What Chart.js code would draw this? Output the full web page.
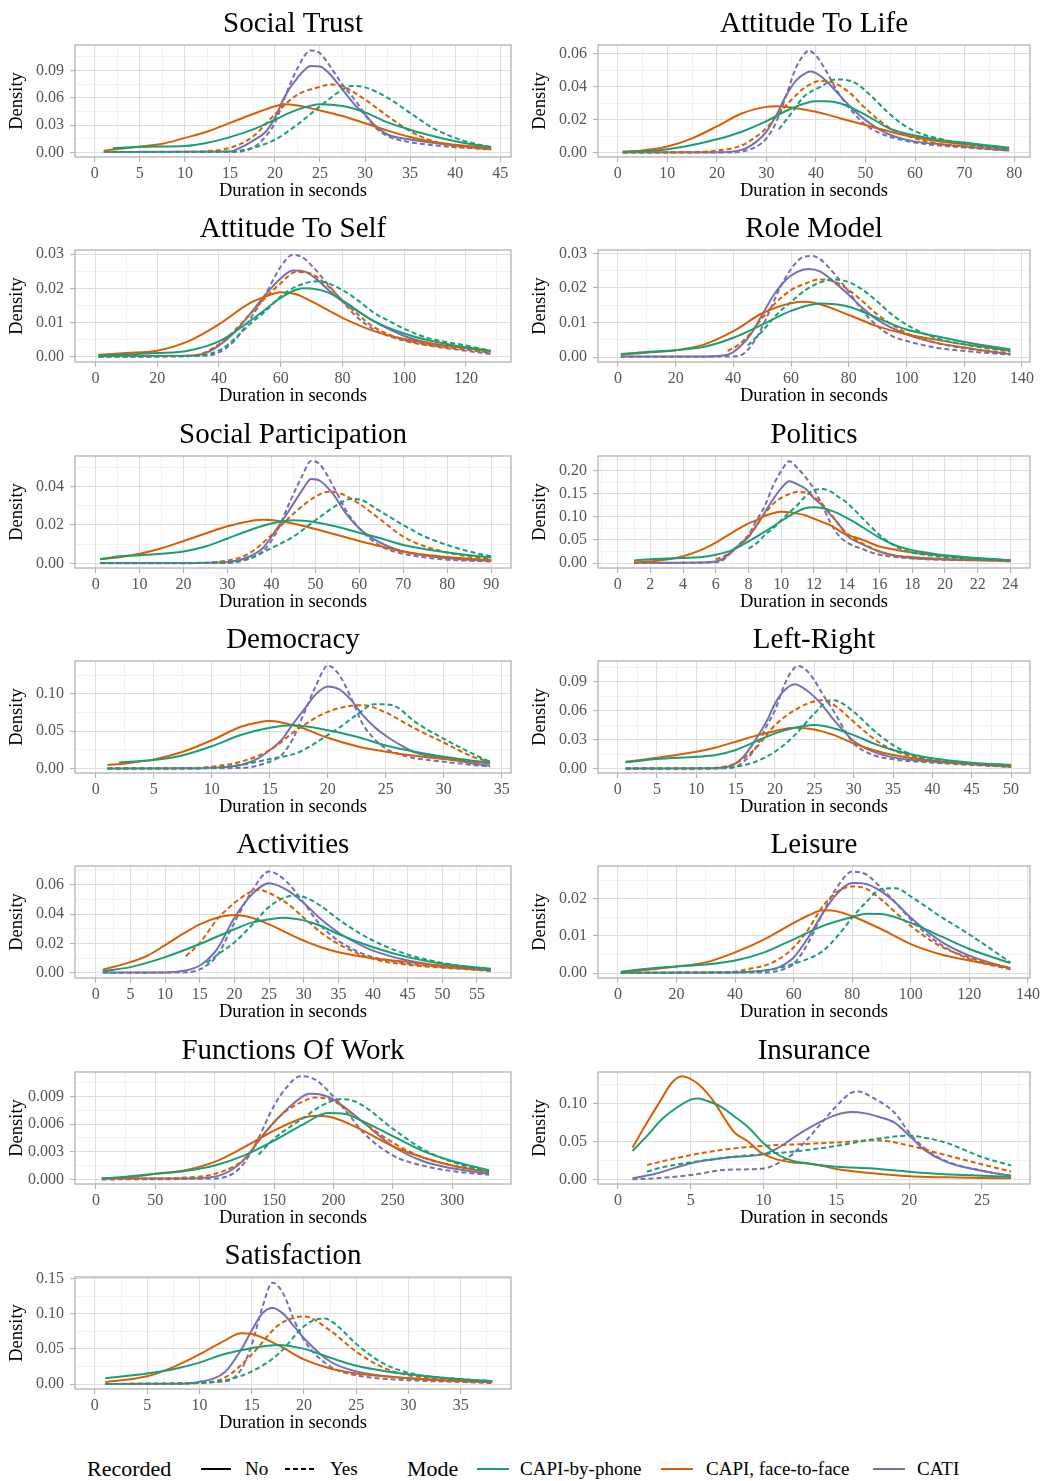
<!DOCTYPE html>
<html lang="en">
<head>
<meta charset="UTF-8">
<title>Response durations by mode and recording</title>
<script src="https://cdn.jsdelivr.net/npm/chart.js"></script>
<style>
  body { margin: 0; background: #fff; width: 1047px; height: 1481px; position: relative; overflow: hidden; font-family: 'Liberation Serif', 'DejaVu Serif', serif; }
  canvas.panel { position: absolute; }
  #legend { position: absolute; left: 0; top: 1454px; width: 1047px; height: 30px; }
  #legend span { position: absolute; top: 0; line-height: 30px; white-space: nowrap; color: #000; }
  #legend .head { font-size: 22px; }
  #legend .item { font-size: 19px; }
  #legend svg { position: absolute; top: 0; }
</style>
</head>
<body>
<div id="legend">
  <span class="head" style="left:87px">Recorded</span>
  <svg style="left:199px" width="34" height="30"><line x1="2" y1="15" x2="32" y2="15" stroke="#000" stroke-width="2"/></svg>
  <span class="item" style="left:245px">No</span>
  <svg style="left:283px" width="36" height="30"><line x1="2" y1="15" x2="34" y2="15" stroke="#000" stroke-width="2" stroke-dasharray="5,3"/></svg>
  <span class="item" style="left:330px">Yes</span>
  <span class="head" style="left:407px">Mode</span>
  <svg style="left:475px" width="36" height="30"><line x1="2" y1="15" x2="34" y2="15" stroke="#1B9E77" stroke-width="2"/></svg>
  <span class="item" style="left:520px">CAPI-by-phone</span>
  <svg style="left:659px" width="36" height="30"><line x1="2" y1="15" x2="34" y2="15" stroke="#D95F02" stroke-width="2"/></svg>
  <span class="item" style="left:706px">CAPI, face-to-face</span>
  <svg style="left:871px" width="36" height="30"><line x1="2" y1="15" x2="34" y2="15" stroke="#7570B3" stroke-width="2"/></svg>
  <span class="item" style="left:917px">CATI</span>
</div>
<script>
// series order in every panel: phone/No, phone/Yes, face-to-face/No, face-to-face/Yes, CATI/No, CATI/Yes
const modes = ['CAPI-by-phone', 'CAPI, face-to-face', 'CATI'];
const recorded = ['No', 'Yes'];
const colours = ['#1B9E77', '#D95F02', '#7570B3'];

const titles = ['Social Trust', 'Attitude To Life', 'Attitude To Self', 'Role Model',
  'Social Participation', 'Politics', 'Democracy', 'Left-Right', 'Activities', 'Leisure',
  'Functions Of Work', 'Insurance', 'Satisfaction'];

const xTicks = [
  [0, 5, 10, 15, 20, 25, 30, 35, 40, 45],
  [0, 10, 20, 30, 40, 50, 60, 70, 80],
  [0, 20, 40, 60, 80, 100, 120],
  [0, 20, 40, 60, 80, 100, 120, 140],
  [0, 10, 20, 30, 40, 50, 60, 70, 80, 90],
  [0, 2, 4, 6, 8, 10, 12, 14, 16, 18, 20, 22, 24],
  [0, 5, 10, 15, 20, 25, 30, 35],
  [0, 5, 10, 15, 20, 25, 30, 35, 40, 45, 50],
  [0, 5, 10, 15, 20, 25, 30, 35, 40, 45, 50, 55],
  [0, 20, 40, 60, 80, 100, 120, 140],
  [0, 50, 100, 150, 200, 250, 300],
  [0, 5, 10, 15, 20, 25],
  [0, 5, 10, 15, 20, 25, 30, 35]
];
const yTicks = [
  [0, 0.03, 0.06, 0.09],
  [0, 0.02, 0.04, 0.06],
  [0, 0.01, 0.02, 0.03],
  [0, 0.01, 0.02, 0.03],
  [0, 0.02, 0.04],
  [0, 0.05, 0.10, 0.15, 0.20],
  [0, 0.05, 0.10],
  [0, 0.03, 0.06, 0.09],
  [0, 0.02, 0.04, 0.06],
  [0, 0.01, 0.02],
  [0, 0.003, 0.006, 0.009],
  [0, 0.05, 0.10],
  [0, 0.05, 0.10, 0.15]
];
const xLimits = [[-2.2, 46.2], [-4, 83.2], [-6.6, 134.6], [-6.9, 142.8], [-4.7, 94.5], [-1.2, 25.2],
  [-1.8, 35.8], [-2.5, 52.4], [-3.0, 59.9], [-6.8, 140.7], [-17.6, 349.5], [-1.37, 28.3], [-1.9, 39.8]];
const yLimits = [[-0.005, 0.118], [-0.0025, 0.0652], [-0.0015, 0.0312], [-0.0014, 0.031], [-0.0024, 0.056],
  [-0.0105, 0.2315], [-0.0058, 0.144], [-0.0045, 0.1117], [-0.0034, 0.0728], [-0.0013, 0.0288],
  [-0.0005, 0.01166], [-0.0052, 0.141], [-0.007, 0.152]];

const socialTrust = [
  [[2,0.0047],[5,0.006],[7.5,0.0065],[10,0.007],[12.5,0.0106],[15,0.0168],[17.5,0.025],[20,0.036],[22.5,0.047],[25,0.053],[27.5,0.051],[30,0.044],[32.5,0.033],[35,0.025],[37.5,0.018],[40,0.0124],[42.5,0.008],[44,0.006]],
  [[1,0.0004],[10,0.0004],[15,0.0007],[17.5,0.005],[20,0.014],[22.5,0.0307],[25,0.0507],[27.5,0.069],[28.5,0.073],[30,0.0715],[32.5,0.06],[35,0.0434],[37.5,0.027],[40,0.016],[42.5,0.0088],[44,0.006]],
  [[1,0.002],[5,0.0066],[7.5,0.0095],[10,0.016],[12.5,0.023],[15,0.0325],[17.5,0.042],[20,0.0507],[21,0.053],[22.5,0.0515],[25,0.046],[27.5,0.04],[30,0.032],[32.5,0.024],[35,0.017],[37.5,0.0117],[40,0.0084],[42.5,0.006],[44,0.004]],
  [[1,0.0005],[10,0.0007],[12.5,0.0015],[15,0.005],[17.5,0.017],[20,0.042],[22.5,0.0635],[25,0.072],[26,0.0745],[27.5,0.0725],[30,0.058],[32.5,0.04],[35,0.0234],[37.5,0.0124],[40,0.007],[42.5,0.0044],[44,0.003]],
  [[1,0.0004],[15,0.001],[16,0.0044],[17.5,0.0124],[19,0.023],[20,0.038],[21,0.06],[22.5,0.082],[24,0.095],[25,0.0945],[26,0.087],[27.5,0.069],[29,0.0507],[30,0.0416],[31,0.0307],[32.5,0.0197],[35,0.0142],[37.5,0.0106],[40,0.0077],[42.5,0.0055],[44,0.0036]],
  [[1,0.0004],[15,0.0004],[17.5,0.005],[19,0.018],[20,0.0325],[21,0.058],[22.5,0.0927],[24,0.112],[25,0.109],[26,0.0963],[27.5,0.0745],[29,0.056],[30,0.0416],[31,0.0288],[32.5,0.0179],[35,0.0113],[37.5,0.008],[40,0.0058],[42.5,0.0044],[44,0.0033]]
];

const attitudeToLife = [
  [[1,0.0004],[5,0.0008],[10,0.0022],[15,0.0048],[20,0.0082],[25,0.0128],[30,0.0192],[35,0.0268],[40,0.0312],[42,0.0312],[45,0.0298],[50,0.023],[55,0.0145],[60,0.0105],[65,0.0078],[70,0.0062],[75,0.0044],[79,0.0032]],
  [[32.5,0.0142],[35.5,0.0258],[37.5,0.0338],[41,0.04],[44,0.0444],[47.6,0.0428],[51,0.0348],[54.4,0.0248],[57.7,0.0168],[61,0.0118],[65,0.0085],[70,0.0055],[75,0.0035],[79,0.0022]],
  [[1,0.0008],[5,0.0014],[10,0.0038],[15,0.0088],[20,0.016],[25,0.0238],[30,0.0278],[32,0.0282],[35,0.0274],[40,0.0248],[45,0.0208],[50,0.0168],[55,0.0128],[60,0.0094],[65,0.0068],[70,0.0052],[75,0.0038],[79,0.0026]],
  [[1,0.0002],[15,0.0004],[20,0.0014],[25,0.0045],[28,0.01],[30,0.015],[32,0.022],[35,0.032],[38,0.04],[41,0.0435],[44,0.0418],[47,0.0358],[50,0.0268],[55,0.0148],[60,0.0088],[65,0.0054],[70,0.0038],[75,0.0026],[79,0.0018]],
  [[1,0.0004],[20,0.0004],[25,0.0018],[28,0.0068],[30,0.0128],[32,0.0228],[34,0.0348],[36,0.0438],[38,0.0484],[39,0.0492],[40,0.0482],[42,0.0438],[44,0.0374],[46,0.0308],[48,0.0248],[50,0.0198],[53,0.0138],[56,0.0098],[60,0.0068],[65,0.0052],[70,0.0038],[75,0.0024],[79,0.0014]],
  [[1,0.0002],[22,0.0002],[25,0.0008],[28,0.0038],[30,0.0088],[32,0.0188],[34,0.0348],[36,0.0518],[38,0.0608],[38.5,0.0618],[40,0.0588],[42,0.0498],[44,0.0388],[46,0.0298],[48,0.0228],[50,0.0168],[53,0.0118],[56,0.0088],[60,0.0062],[65,0.0044],[70,0.0032],[75,0.0022],[79,0.0014]]
];

const attitudeToSelf = [
  [[1,0.0004],[10,0.0007],[20,0.0011],[30,0.0018],[40,0.0045],[50,0.0104],[55,0.0138],[60,0.0172],[65,0.0196],[68,0.02],[75,0.0189],[80,0.0165],[90,0.0105],[100,0.0068],[110,0.0044],[120,0.0028],[128,0.0018]],
  [[1,0.0001],[30,0.0002],[40,0.0018],[45,0.0052],[50,0.0095],[55,0.0133],[60,0.0176],[65,0.0205],[72,0.0221],[80,0.0195],[85,0.0165],[90,0.013],[95,0.0105],[100,0.0082],[106,0.006],[110,0.005],[120,0.0033],[128,0.0018]],
  [[1,0.0006],[10,0.0011],[20,0.0018],[30,0.0045],[40,0.0095],[50,0.0157],[55,0.0176],[60,0.0189],[65,0.0183],[70,0.0162],[80,0.0114],[90,0.0076],[100,0.0052],[110,0.0037],[120,0.0026],[128,0.0015]],
  [[1,0.0001],[30,0.0003],[35,0.0011],[40,0.0037],[45,0.0076],[50,0.0124],[55,0.0172],[60,0.0215],[65,0.0248],[70,0.0242],[75,0.021],[80,0.0165],[85,0.0124],[90,0.0088],[100,0.005],[110,0.0032],[120,0.0021],[128,0.0012]],
  [[1,0.0002],[30,0.0003],[35,0.0009],[40,0.0033],[45,0.0071],[50,0.0124],[55,0.0181],[60,0.0229],[64,0.0252],[68,0.0248],[72,0.0224],[76,0.0191],[80,0.0162],[85,0.0133],[90,0.0105],[100,0.0061],[110,0.0037],[120,0.0026],[128,0.0015]],
  [[1,0.0001],[35,0.0003],[40,0.0013],[45,0.0047],[50,0.0109],[55,0.0181],[60,0.0263],[64,0.0298],[67,0.0291],[70,0.0267],[75,0.0215],[80,0.0162],[85,0.0114],[90,0.0081],[95,0.0061],[100,0.0047],[110,0.003],[120,0.0018],[128,0.0008]]
];

const roleModel = [
  [[1,0.0009],[10,0.0015],[20,0.002],[30,0.003],[40,0.0056],[50,0.0094],[60,0.0134],[70,0.0155],[80,0.0146],[90,0.0113],[100,0.008],[110,0.0061],[120,0.0044],[130,0.003],[136,0.0023]],
  [[45,0.0034],[50,0.0075],[55,0.0123],[60,0.016],[65,0.0194],[70,0.0216],[75,0.0225],[80,0.0217],[85,0.0194],[90,0.016],[95,0.0123],[100,0.0094],[110,0.0056],[120,0.0037],[130,0.0023],[136,0.0016]],
  [[1,0.0007],[10,0.0013],[20,0.002],[30,0.0037],[40,0.0075],[50,0.0127],[60,0.0156],[65,0.016],[70,0.0153],[80,0.0122],[90,0.0089],[100,0.0066],[110,0.0051],[120,0.0037],[130,0.0026],[136,0.0018]],
  [[38,0.0018],[42,0.0037],[46,0.007],[50,0.0113],[55,0.016],[60,0.0194],[65,0.0213],[70,0.0225],[75,0.0219],[80,0.0194],[85,0.016],[90,0.0123],[100,0.007],[110,0.0042],[120,0.0026],[130,0.0016],[136,0.001]],
  [[1,0.0002],[30,0.0002],[38,0.0007],[42,0.0028],[46,0.0066],[50,0.0123],[54,0.018],[58,0.0222],[62,0.0246],[66,0.0255],[70,0.0248],[75,0.0217],[80,0.018],[85,0.0141],[90,0.0108],[100,0.0066],[110,0.0042],[120,0.0028],[130,0.0015],[136,0.0009]],
  [[1,0.0001],[40,0.0002],[44,0.0013],[48,0.0056],[52,0.0123],[56,0.0198],[60,0.0255],[64,0.0289],[67,0.0293],[70,0.0284],[75,0.0241],[80,0.0189],[85,0.0132],[90,0.0089],[95,0.0061],[100,0.0047],[110,0.0028],[120,0.0018],[130,0.0011],[136,0.0007]]
];

const socialParticipation = [
  [[1,0.0022],[5,0.0036],[10,0.0043],[15,0.005],[20,0.0062],[25,0.0088],[30,0.013],[35,0.0173],[40,0.0208],[45,0.0225],[50,0.0215],[55,0.0191],[60,0.016],[65,0.013],[70,0.0096],[75,0.0074],[80,0.0057],[85,0.0043],[90,0.0031]],
  [[1,0.0002],[20,0.0002],[30,0.0005],[35,0.0027],[40,0.008],[45,0.014],[50,0.0225],[55,0.0305],[58,0.0336],[60,0.0333],[65,0.0268],[70,0.02],[75,0.0139],[80,0.0096],[85,0.0062],[90,0.0036]],
  [[1,0.0022],[5,0.0031],[10,0.005],[15,0.0079],[20,0.0117],[25,0.0156],[30,0.0194],[35,0.022],[38,0.0227],[42,0.022],[45,0.0208],[50,0.0179],[55,0.0148],[60,0.0117],[65,0.0088],[70,0.0062],[75,0.0045],[80,0.0033],[85,0.0024],[90,0.0017]],
  [[1,0.0002],[20,0.0002],[30,0.0015],[35,0.0053],[40,0.0148],[45,0.0259],[50,0.0348],[53,0.0374],[56,0.0362],[60,0.0311],[65,0.0225],[70,0.0139],[75,0.0088],[80,0.0057],[85,0.0036],[90,0.0022]],
  [[1,0.0002],[20,0.0002],[30,0.0007],[35,0.0036],[38,0.0079],[41,0.0173],[44,0.0276],[47,0.0382],[49,0.044],[51,0.0431],[54,0.0362],[57,0.0259],[60,0.0182],[65,0.0105],[70,0.0062],[75,0.0041],[80,0.0027],[85,0.0019],[90,0.0014]],
  [[1,0.0001],[30,0.0002],[35,0.0024],[38,0.0062],[41,0.0156],[44,0.0311],[47,0.0457],[49,0.0534],[51,0.0517],[54,0.0405],[57,0.0276],[60,0.0182],[65,0.0088],[70,0.005],[75,0.0031],[80,0.0019],[85,0.0014],[90,0.001]]
];

const politics = [
  [[1,0.0057],[2,0.0085],[3,0.0099],[4,0.0113],[5,0.0127],[6,0.018],[7,0.028],[8,0.047],[9,0.068],[10,0.091],[10.5,0.102],[11,0.112],[11.5,0.119],[12,0.121],[12.5,0.119],[13,0.114],[13.5,0.107],[14,0.098],[14.5,0.088],[15,0.077],[16,0.055],[17,0.038],[18,0.028],[19,0.022],[20,0.017],[22,0.011],[24,0.0064]],
  [[8,0.032],[8.5,0.043],[9,0.061],[9.5,0.075],[10,0.093],[10.5,0.11],[11,0.126],[11.5,0.145],[12,0.158],[12.5,0.16],[13,0.155],[13.5,0.143],[14,0.131],[14.5,0.114],[15,0.096],[15.5,0.078],[16,0.061],[17,0.036],[18,0.023],[19,0.017],[20,0.013],[22,0.009],[24,0.006]],
  [[1,0.0014],[2,0.0035],[3,0.0078],[4,0.015],[5,0.027],[6,0.0445],[7,0.066],[8,0.086],[8.5,0.093],[9,0.102],[9.5,0.108],[10,0.111],[10.5,0.11],[11,0.107],[11.5,0.103],[12,0.096],[12.5,0.089],[13,0.082],[13.5,0.071],[14,0.061],[14.5,0.056],[15,0.05],[16,0.036],[17,0.029],[18,0.023],[19,0.019],[20,0.0155],[22,0.01],[24,0.0065]],
  [[6,0.008],[6.5,0.015],[7,0.025],[7.5,0.04],[8,0.057],[8.5,0.082],[9,0.107],[9.5,0.128],[10,0.141],[10.5,0.149],[11,0.154],[11.5,0.153],[12,0.143],[12.5,0.128],[13,0.107],[13.5,0.084],[14,0.065],[14.5,0.052],[15,0.042],[16,0.025],[17,0.016],[18,0.011],[20,0.008],[22,0.006],[24,0.005]],
  [[1,0.001],[4,0.001],[5,0.0014],[6,0.0035],[6.5,0.011],[7,0.027],[8,0.057],[8.5,0.082],[9,0.11],[9.5,0.138],[10,0.162],[10.5,0.177],[11,0.17],[11.5,0.16],[12,0.14],[12.5,0.125],[13,0.105],[13.5,0.085],[14,0.06],[15,0.04],[16,0.025],[17,0.016],[18,0.013],[20,0.009],[22,0.007],[24,0.005]],
  [[1,0.0002],[6,0.002],[6.5,0.008],[7,0.025],[7.5,0.043],[8,0.061],[8.5,0.093],[9,0.124],[9.5,0.167],[10,0.199],[10.5,0.22],[11,0.205],[11.5,0.185],[12,0.16],[12.5,0.125],[13,0.088],[13.5,0.06],[14,0.045],[15,0.03],[16,0.018],[17,0.013],[18,0.01],[20,0.007],[22,0.006],[24,0.004]]
];

const democracy = [
  [[2,0.0084],[5,0.0115],[7.5,0.018],[10,0.03],[12.5,0.045],[15,0.0547],[17,0.058],[20,0.0515],[22.5,0.0427],[25,0.031],[27.5,0.0227],[30,0.016],[32.5,0.0107],[34,0.008]],
  [[1,0.0002],[10,0.0009],[12.5,0.005],[15,0.0129],[17.5,0.022],[20,0.045],[21,0.055],[22.5,0.072],[24,0.086],[25,0.086],[26,0.082],[27.5,0.063],[30,0.04],[32.5,0.02],[34,0.009]],
  [[1,0.005],[2.5,0.007],[5,0.0124],[7.5,0.0227],[10,0.038],[12.5,0.056],[14,0.0618],[15,0.0636],[16,0.0618],[17.5,0.056],[20,0.0413],[22.5,0.03],[25,0.0227],[27.5,0.0173],[30,0.0129],[32.5,0.0093],[34,0.007]],
  [[1,0.0002],[7.5,0.0004],[10,0.0027],[12.5,0.0093],[15,0.0249],[17.5,0.0538],[20,0.076],[22,0.084],[23,0.0849],[25,0.0751],[27.5,0.0538],[30,0.035],[32.5,0.016],[34,0.0093]],
  [[1,0.0002],[7.5,0.0004],[10,0.0013],[12.5,0.005],[14,0.0138],[15,0.0249],[16,0.038],[17,0.06],[18,0.08],[19,0.1],[20,0.11],[21,0.106],[22,0.092],[23,0.072],[24,0.056],[25,0.044],[26,0.034],[27.5,0.022],[30,0.0138],[32.5,0.007],[34,0.004]],
  [[1,0.0001],[12.5,0.0009],[15,0.0093],[16,0.018],[17,0.04],[18,0.076],[19,0.1116],[20,0.138],[21,0.125],[22,0.095],[23,0.06],[24,0.04],[25,0.027],[26,0.02],[27.5,0.014],[30,0.0093],[32.5,0.005],[34,0.0027]]
];

const leftRight = [
  [[1,0.0066],[5,0.01],[10,0.0124],[12.5,0.0141],[15,0.0193],[17.5,0.028],[20,0.0366],[22.5,0.0424],[25,0.0452],[27.5,0.0417],[30,0.0348],[32.5,0.0262],[35,0.0193],[40,0.0107],[45,0.0062],[50,0.0038]],
  [[1,0.0002],[12.5,0.0004],[15,0.002],[17.5,0.0072],[20,0.0176],[22.5,0.0348],[25,0.0572],[27,0.071],[28,0.07],[30,0.059],[32.5,0.04],[35,0.0245],[37.5,0.0141],[40,0.009],[45,0.0055],[50,0.0038]],
  [[1,0.0072],[5,0.0114],[10,0.0176],[12.5,0.022],[15,0.028],[17.5,0.034],[20,0.039],[22.5,0.0424],[25,0.0407],[27.5,0.0348],[30,0.0262],[32.5,0.0193],[35,0.0141],[40,0.0083],[45,0.0048],[50,0.0028]],
  [[1,0.0002],[10,0.0002],[12.5,0.001],[15,0.0055],[17.5,0.021],[20,0.0452],[22.5,0.0607],[25,0.07],[26,0.071],[27.5,0.0659],[30,0.0486],[32.5,0.0314],[35,0.0193],[37.5,0.0124],[40,0.0083],[45,0.0048],[50,0.0021]],
  [[1,0.0002],[12.5,0.0004],[14,0.002],[15,0.0055],[16,0.0124],[17.5,0.0297],[19,0.0503],[20,0.0676],[21,0.0797],[22.5,0.0876],[24,0.0814],[25,0.0745],[26,0.0659],[27.5,0.0503],[29,0.0366],[30,0.0286],[32.5,0.0176],[35,0.0117],[40,0.0072],[45,0.0048],[50,0.0021]],
  [[1,0.0001],[14,0.0004],[15,0.002],[16,0.0072],[17.5,0.021],[19,0.0452],[20,0.0607],[21,0.083],[22,0.1],[23,0.1066],[24,0.102],[25,0.0917],[26,0.078],[27.5,0.059],[29,0.038],[30,0.026],[32.5,0.0141],[35,0.0097],[40,0.0062],[45,0.0038],[50,0.0017]]
];

const activities = [
  [[1,0.0013],[5,0.004],[10,0.0108],[15,0.0197],[20,0.0298],[22.5,0.0343],[25,0.0365],[27,0.0376],[30,0.0358],[32.5,0.032],[35,0.0264],[40,0.0175],[45,0.0108],[50,0.0063],[57,0.0029]],
  [[16,0.0069],[17.5,0.0123],[20,0.0208],[22.5,0.0325],[25,0.045],[27.5,0.0517],[28.5,0.0526],[30,0.0517],[32.5,0.0455],[35,0.0365],[37.5,0.0287],[40,0.022],[45,0.0125],[50,0.0069],[57,0.0022]],
  [[1,0.0022],[5,0.0074],[7.5,0.0119],[10,0.019],[12.5,0.0264],[15,0.0331],[17.5,0.0376],[20,0.0394],[22.5,0.0376],[25,0.0331],[27.5,0.0275],[30,0.022],[32.5,0.0175],[35,0.0141],[40,0.0101],[45,0.0074],[50,0.0049],[57,0.0025]],
  [[13,0.0114],[15,0.0204],[17.5,0.0365],[20,0.0477],[22.5,0.0555],[23.5,0.0567],[25,0.0544],[27.5,0.0477],[30,0.0376],[32.5,0.0275],[35,0.0197],[40,0.0096],[45,0.0056],[50,0.0036],[57,0.0018]],
  [[1,0.0004],[10,0.0004],[12.5,0.0013],[15,0.0051],[17.5,0.0163],[20,0.0376],[22.5,0.0533],[25,0.0611],[27.5,0.0567],[30,0.0477],[32.5,0.0365],[35,0.0275],[37.5,0.0208],[40,0.0152],[45,0.0085],[50,0.0047],[57,0.0016]],
  [[1,0.0002],[12.5,0.0004],[15,0.0025],[17.5,0.0119],[20,0.0343],[22.5,0.0555],[25,0.069],[27.5,0.0623],[30,0.0477],[32.5,0.032],[35,0.022],[37.5,0.0152],[40,0.0108],[45,0.0063],[50,0.004],[57,0.0013]]
];

const leisure = [
  [[1,0.0004],[10,0.0012],[20,0.0018],[30,0.0023],[40,0.0034],[50,0.0056],[60,0.0091],[70,0.0127],[80,0.0151],[85,0.016],[90,0.0159],[100,0.0135],[110,0.01],[120,0.0065],[134,0.0027]],
  [[1,0.0001],[40,0.0003],[50,0.0007],[60,0.0025],[70,0.006],[75,0.01],[80,0.0149],[85,0.0193],[90,0.0226],[95,0.0228],[100,0.0206],[110,0.0153],[120,0.0104],[134,0.0029]],
  [[1,0.0002],[10,0.0009],[20,0.0018],[30,0.0029],[40,0.0056],[50,0.0091],[60,0.0135],[65,0.0155],[70,0.0169],[75,0.0166],[80,0.0153],[90,0.0118],[100,0.0078],[110,0.0051],[120,0.0034],[134,0.0014]],
  [[1,0.0001],[30,0.0002],[40,0.0004],[45,0.0012],[50,0.002],[55,0.0038],[60,0.0069],[65,0.0118],[70,0.018],[75,0.0219],[80,0.0233],[85,0.0226],[90,0.0197],[95,0.0162],[100,0.0127],[110,0.0073],[120,0.0042],[134,0.0014]],
  [[1,0.0001],[40,0.0002],[50,0.0007],[55,0.0016],[60,0.0042],[65,0.0096],[70,0.0162],[75,0.0215],[80,0.0242],[85,0.0239],[90,0.0219],[95,0.0188],[100,0.0149],[110,0.0087],[120,0.0047],[134,0.0012]],
  [[1,0.0001],[50,0.0002],[55,0.0007],[60,0.0025],[65,0.0082],[70,0.0162],[75,0.0233],[80,0.0273],[85,0.0264],[90,0.0228],[95,0.0188],[100,0.0144],[110,0.0078],[120,0.0038],[134,0.001]]
];

const functionsOfWork = [
  [[5,0.0001],[25,0.0003],[50,0.0006],[75,0.0009],[100,0.0015],[125,0.0026],[150,0.0042],[175,0.006],[195,0.0072],[210,0.0071],[225,0.0063],[250,0.0047],[275,0.0031],[300,0.002],[331,0.001]],
  [[137,0.0027],[150,0.0044],[175,0.0067],[190,0.008],[205,0.0087],[215,0.0086],[225,0.008],[250,0.0055],[275,0.0033],[300,0.0019],[331,0.0008]],
  [[5,0.0001],[25,0.0002],[50,0.0006],[75,0.001],[100,0.0019],[125,0.0035],[150,0.0053],[175,0.0067],[185,0.0069],[200,0.0067],[225,0.0053],[250,0.0036],[275,0.0024],[300,0.0015],[331,0.0008]],
  [[5,0.0001],[50,0.0001],[75,0.0002],[100,0.0006],[125,0.0022],[140,0.0047],[150,0.0062],[160,0.0074],[175,0.0085],[185,0.0089],[200,0.0085],[225,0.0062],[250,0.004],[275,0.0024],[300,0.0015],[331,0.0008]],
  [[5,0.0001],[75,0.0001],[100,0.0003],[115,0.0011],[125,0.0022],[140,0.0047],[150,0.0062],[165,0.0081],[180,0.0093],[190,0.0092],[200,0.0087],[225,0.0062],[250,0.0036],[275,0.002],[300,0.0012],[331,0.0006]],
  [[5,0.0],[100,0.0001],[115,0.0006],[125,0.0018],[135,0.004],[150,0.008],[160,0.0099],[172,0.0112],[185,0.0108],[200,0.009],[215,0.0067],[225,0.0051],[250,0.0026],[275,0.0015],[300,0.0009],[331,0.0005]]
];

const insurance = [
  [[1,0.038],[2,0.0576],[3,0.079],[4,0.094],[5,0.105],[5.5,0.1065],[6,0.104],[7,0.0965],[8,0.083],[9,0.068],[10,0.048],[11,0.033],[12,0.025],[13,0.022],[15,0.0173],[17.5,0.015],[20,0.0108],[22.5,0.0074],[25,0.0056],[27,0.0043]],
  [[2,0.0108],[3,0.0164],[5,0.023],[7.5,0.0294],[10,0.0338],[12.5,0.038],[15,0.0446],[17.5,0.053],[19,0.0567],[20,0.058],[21,0.0554],[22.5,0.049],[25,0.03],[27,0.019]],
  [[1,0.0424],[2,0.075],[2.9,0.103],[3.7,0.127],[4.4,0.1355],[5.4,0.127],[6.1,0.114],[6.8,0.0965],[7.3,0.081],[8,0.062],[8.9,0.051],[9.8,0.036],[10.9,0.027],[12,0.023],[13,0.0216],[14,0.0186],[15,0.0143],[17.5,0.0087],[20,0.0048],[22.5,0.0035],[25,0.0026],[27,0.0022]],
  [[2,0.0195],[3,0.0242],[5,0.0325],[7.5,0.0403],[10,0.0446],[12.5,0.0468],[15,0.049],[17.8,0.052],[20,0.045],[22.6,0.032],[24.9,0.021],[27,0.011]],
  [[1,0.0022],[2.5,0.0078],[5,0.022],[7.5,0.0294],[10,0.0338],[11,0.042],[12.5,0.061],[14,0.077],[15,0.085],[16,0.0887],[17,0.087],[18,0.082],[19,0.075],[20,0.058],[21,0.04],[22.5,0.024],[25,0.012],[27,0.0055]],
  [[1,0.0009],[2.5,0.0022],[5,0.0065],[7.5,0.0134],[10,0.015],[11,0.022],[12,0.0338],[13,0.053],[14,0.0749],[15,0.0965],[16,0.1138],[16.5,0.1156],[17.5,0.1074],[19,0.0879],[20,0.062],[21,0.0424],[22.5,0.025],[25,0.0121],[27,0.0056]]
];

const satisfaction = [
  [[1,0.0083],[5,0.015],[7.5,0.021],[10,0.0305],[12.5,0.043],[15,0.051],[17.5,0.0555],[20,0.05],[22.5,0.0375],[25,0.026],[27.5,0.019],[30,0.0139],[35,0.007],[38,0.0042]],
  [[1,0.0002],[10,0.0014],[12.5,0.0055],[15,0.018],[17.5,0.042],[20,0.082],[21,0.091],[22,0.093],[23,0.085],[25,0.057],[27.5,0.03],[30,0.016],[35,0.007],[38,0.0042]],
  [[1,0.003],[5,0.011],[7.5,0.024],[10,0.042],[12.5,0.0625],[14,0.072],[15,0.071],[17.5,0.0555],[20,0.035],[22.5,0.022],[25,0.015],[30,0.0083],[35,0.0042],[38,0.003]],
  [[1,0.0002],[10,0.0014],[12.5,0.0097],[15,0.042],[17.5,0.083],[19,0.094],[20,0.096],[22.5,0.076],[25,0.046],[27.5,0.024],[30,0.0125],[35,0.0055],[38,0.003]],
  [[1,0.0002],[7.5,0.0004],[10,0.003],[12.5,0.018],[14,0.049],[15,0.076],[16,0.1],[17,0.108],[18,0.1],[19,0.083],[20,0.065],[22.5,0.032],[25,0.018],[30,0.0083],[35,0.0042],[38,0.003]],
  [[1,0.0001],[12.5,0.004],[14,0.021],[15,0.0555],[16,0.108],[17,0.144],[18,0.129],[19,0.093],[20,0.0625],[22.5,0.025],[25,0.0125],[30,0.0055],[35,0.003],[38,0.0014]]
];

const densities = [socialTrust, attitudeToLife, attitudeToSelf, roleModel, socialParticipation, politics,
  democracy, leftRight, activities, leisure, functionsOfWork, insurance, satisfaction];

const SERIF = "'Liberation Serif', 'DejaVu Serif', serif";
Chart.defaults.font.family = SERIF;

// grey border around the plotting area, drawn over the curves
const panelBorder = {
  id: 'panelBorder',
  afterDatasetsDraw(chart) {
    const { ctx, chartArea: a } = chart;
    ctx.save();
    ctx.strokeStyle = '#b3b3b3';
    ctx.lineWidth = 1.3;
    ctx.strokeRect(a.left, a.top, a.right - a.left, a.bottom - a.top);
    ctx.restore();
  }
};

// majors plus the half-way minor breaks inside the limits
function breaks(major, lim) {
  const half = (major[1] - major[0]) / 2;
  const out = [];
  for (let k = Math.ceil(lim[0] / half - 1e-9); k * half <= lim[1] + 1e-9; k++) {
    out.push(+(k * half).toFixed(10));
  }
  return out;
}
function onStep(v, step) {
  return Math.abs(v / step - Math.round(v / step)) < 1e-6;
}

function axis(major, lim, horizontal, decimals) {
  const step = major[1] - major[0];
  const ticks = breaks(major, lim);
  return {
    type: 'linear',
    min: lim[0],
    max: lim[1],
    bounds: 'data',
    afterBuildTicks: s => { s.ticks = ticks.map(v => ({ value: v })); },
    afterFit: s => {
      if (horizontal) { s.height = 48; s.paddingLeft = 0; s.paddingRight = 0; }
      else { s.width = 75; }
    },
    ticks: {
      autoSkip: false,
      maxRotation: 0,
      padding: horizontal ? 2 : 6,
      color: '#555',
      font: { size: 16 },
      callback: v => onStep(v, step) ? (horizontal ? String(v) : v.toFixed(decimals)) : ''
    },
    grid: {
      color: c => onStep(c.tick.value, step) ? '#dedede' : '#ececec',
      lineWidth: c => onStep(c.tick.value, step) ? 1.1 : 0.7,
      tickLength: 5,
      tickWidth: 1.1,
      tickColor: c => onStep(c.tick.value, step) ? '#b3b3b3' : 'rgba(0,0,0,0)'
    },
    border: { display: false },
    title: horizontal
      ? { display: true, text: 'Duration in seconds', color: '#000', font: { size: 18.5 }, padding: { top: 0, bottom: 3 } }
      : { display: true, text: 'Density', color: '#000', font: { size: 18.5 }, padding: { top: 6.5, bottom: 0 } }
  };
}

titles.forEach((title, i) => {
  const col = i % 2;
  const row = Math.floor(i / 2);
  const canvas = document.createElement('canvas');
  canvas.className = 'panel';
  canvas.width = col ? 524 : 523;
  canvas.height = 205;
  canvas.style.left = (col ? 523 : 0) + 'px';
  canvas.style.top = Math.round(row * 205.35) + 'px';
  document.body.appendChild(canvas);

  const decimals = yTicks[i][1] < 0.01 ? 3 : 2;
  const datasets = densities[i].map((pts, s) => ({
    label: modes[Math.floor(s / 2)] + ' / ' + recorded[s % 2],
    data: pts.map(([x, y]) => ({ x, y })),
    borderColor: colours[Math.floor(s / 2)],
    borderWidth: 2,
    borderDash: s % 2 ? [5, 3] : [],
    pointRadius: 0,
    fill: false,
    cubicInterpolationMode: 'monotone'
  }));

  new Chart(canvas, {
    type: 'line',
    data: { datasets },
    options: {
      responsive: false,
      animation: false,
      devicePixelRatio: 1,
      layout: { padding: { left: 0, right: col ? 17 : 12, top: 0, bottom: 0 } },
      plugins: {
        legend: { display: false },
        tooltip: { enabled: false },
        title: {
          display: true,
          text: title,
          fullSize: false,
          color: '#000',
          font: { size: 29, weight: 'normal', lineHeight: 1.2 },
          padding: { top: 6.5, bottom: 3.7 }
        }
      },
      scales: {
        x: axis(xTicks[i], xLimits[i], true, 0),
        y: axis(yTicks[i], yLimits[i], false, decimals)
      }
    },
    plugins: [panelBorder]
  });
});
</script>
</body>
</html>
